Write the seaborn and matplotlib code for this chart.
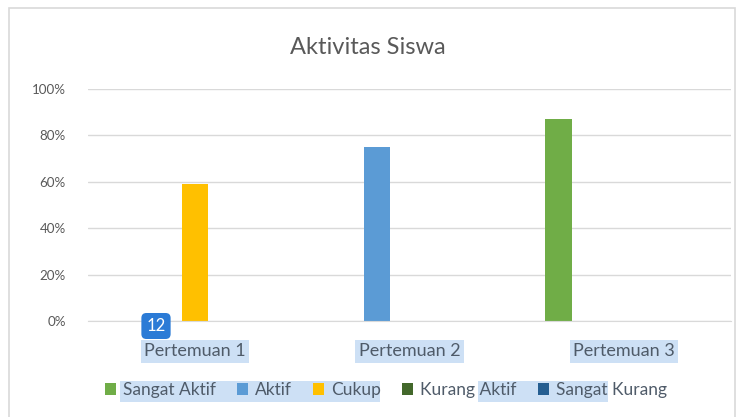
import pandas as pd
import matplotlib.pyplot as plt
import seaborn as sns
from matplotlib.patches import Rectangle, Patch
from matplotlib.ticker import PercentFormatter

# Data
pertemuan = ["Pertemuan 1", "Pertemuan 2", "Pertemuan 3"]
kategori = ["Sangat Aktif", "Aktif", "Cukup", "Kurang Aktif", "Sangat Kurang"]
sangat_aktif = [0.0, 0.0, 0.87]
aktif = [0.0, 0.75, 0.0]
cukup = [0.59, 0.0, 0.0]
kurang_aktif = [0.0, 0.0, 0.0]
sangat_kurang = [0.0, 0.0, 0.0]
warna = ["#70ad47", "#5b9bd5", "#ffc000", "#43682b", "#255e91"]

# Long-form table for seaborn
series = [sangat_aktif, aktif, cukup, kurang_aktif, sangat_kurang]
rows = []
for kat, vals in zip(kategori, series):
    for p, v in zip(pertemuan, vals):
        rows.append({"pertemuan": p, "kategori": kat, "nilai": v})
df = pd.DataFrame(rows)

sns.set_style("white")
plt.rcParams['font.family'] = ['Lato', 'DejaVu Sans']

W, H = 741, 417
fig = plt.figure(figsize=(W / 100, H / 100), dpi=100)
ax = fig.add_axes([88 / W, 1 - 321 / H, (731 - 88) / W, (321 - 89) / H])
ax.patch.set_alpha(0)

sns.barplot(data=df, x="pertemuan", y="nilai", hue="kategori", hue_order=kategori,
            palette=warna, saturation=1, width=0.763, gap=0.2, linewidth=0,
            ax=ax, legend=False)

ax.set_ylim(0, 1)
ax.set_xlim(-0.5, 2.5)
ax.set_yticks([0, 0.2, 0.4, 0.6, 0.8, 1.0])
ax.yaxis.set_major_formatter(PercentFormatter(1.0, decimals=0))
ax.yaxis.grid(True, color="#d9d9d9", linewidth=1)
ax.set_axisbelow(True)
for s in ["top", "right", "left"]:
    ax.spines[s].set_visible(False)
ax.spines["bottom"].set_color("#d9d9d9")
ax.set_xlabel("")
ax.set_ylabel("")
ax.tick_params(axis="y", length=0, pad=16, labelsize=9.6, labelcolor="#595959")
ax.tick_params(axis="x", length=0, pad=16, labelsize=13, labelcolor="#4f5b69")
for lbl in ax.get_xticklabels():
    lbl.set_bbox(dict(facecolor="#cde0f5", edgecolor="none", pad=2.5))

fig.text(368 / W, 1 - 47 / H, "Aktivitas Siswa", ha="center", va="center",
         fontsize=17, color="#595959")

# chart border
fig.add_artist(Rectangle((9 / W, 1 - 430 / H), 726 / W, 422 / H, transform=fig.transFigure,
                         facecolor="none", edgecolor="#d9d9d9", linewidth=1.2, zorder=-2))

# selection highlights behind legend text
for x0, x1 in [(120, 380), (478, 608)]:
    fig.add_artist(Rectangle((x0 / W, 1 - 402 / H), (x1 - x0) / W, 21 / H,
                             transform=fig.transFigure, facecolor="#cde0f5",
                             edgecolor="none", zorder=-1))

handles = [Patch(facecolor=c, edgecolor="none") for c in warna]
fig.legend(handles, kategori, loc="center", bbox_to_anchor=(386 / W, 1 - 390 / H), ncol=5,
           frameon=False, fontsize=12.5, handlelength=0.65, handleheight=0.65,
           handletextpad=0.4, columnspacing=1.2, labelcolor="#4f5b69")

# little badge near the first category
fig.text(156 / W, 1 - 326 / H, "12", ha="center", va="center", fontsize=12, color="white",
         bbox=dict(boxstyle="round,pad=0.3,rounding_size=0.3", facecolor="#2b7bd6", edgecolor="none"))

fig.savefig("out.png", dpi=100)
